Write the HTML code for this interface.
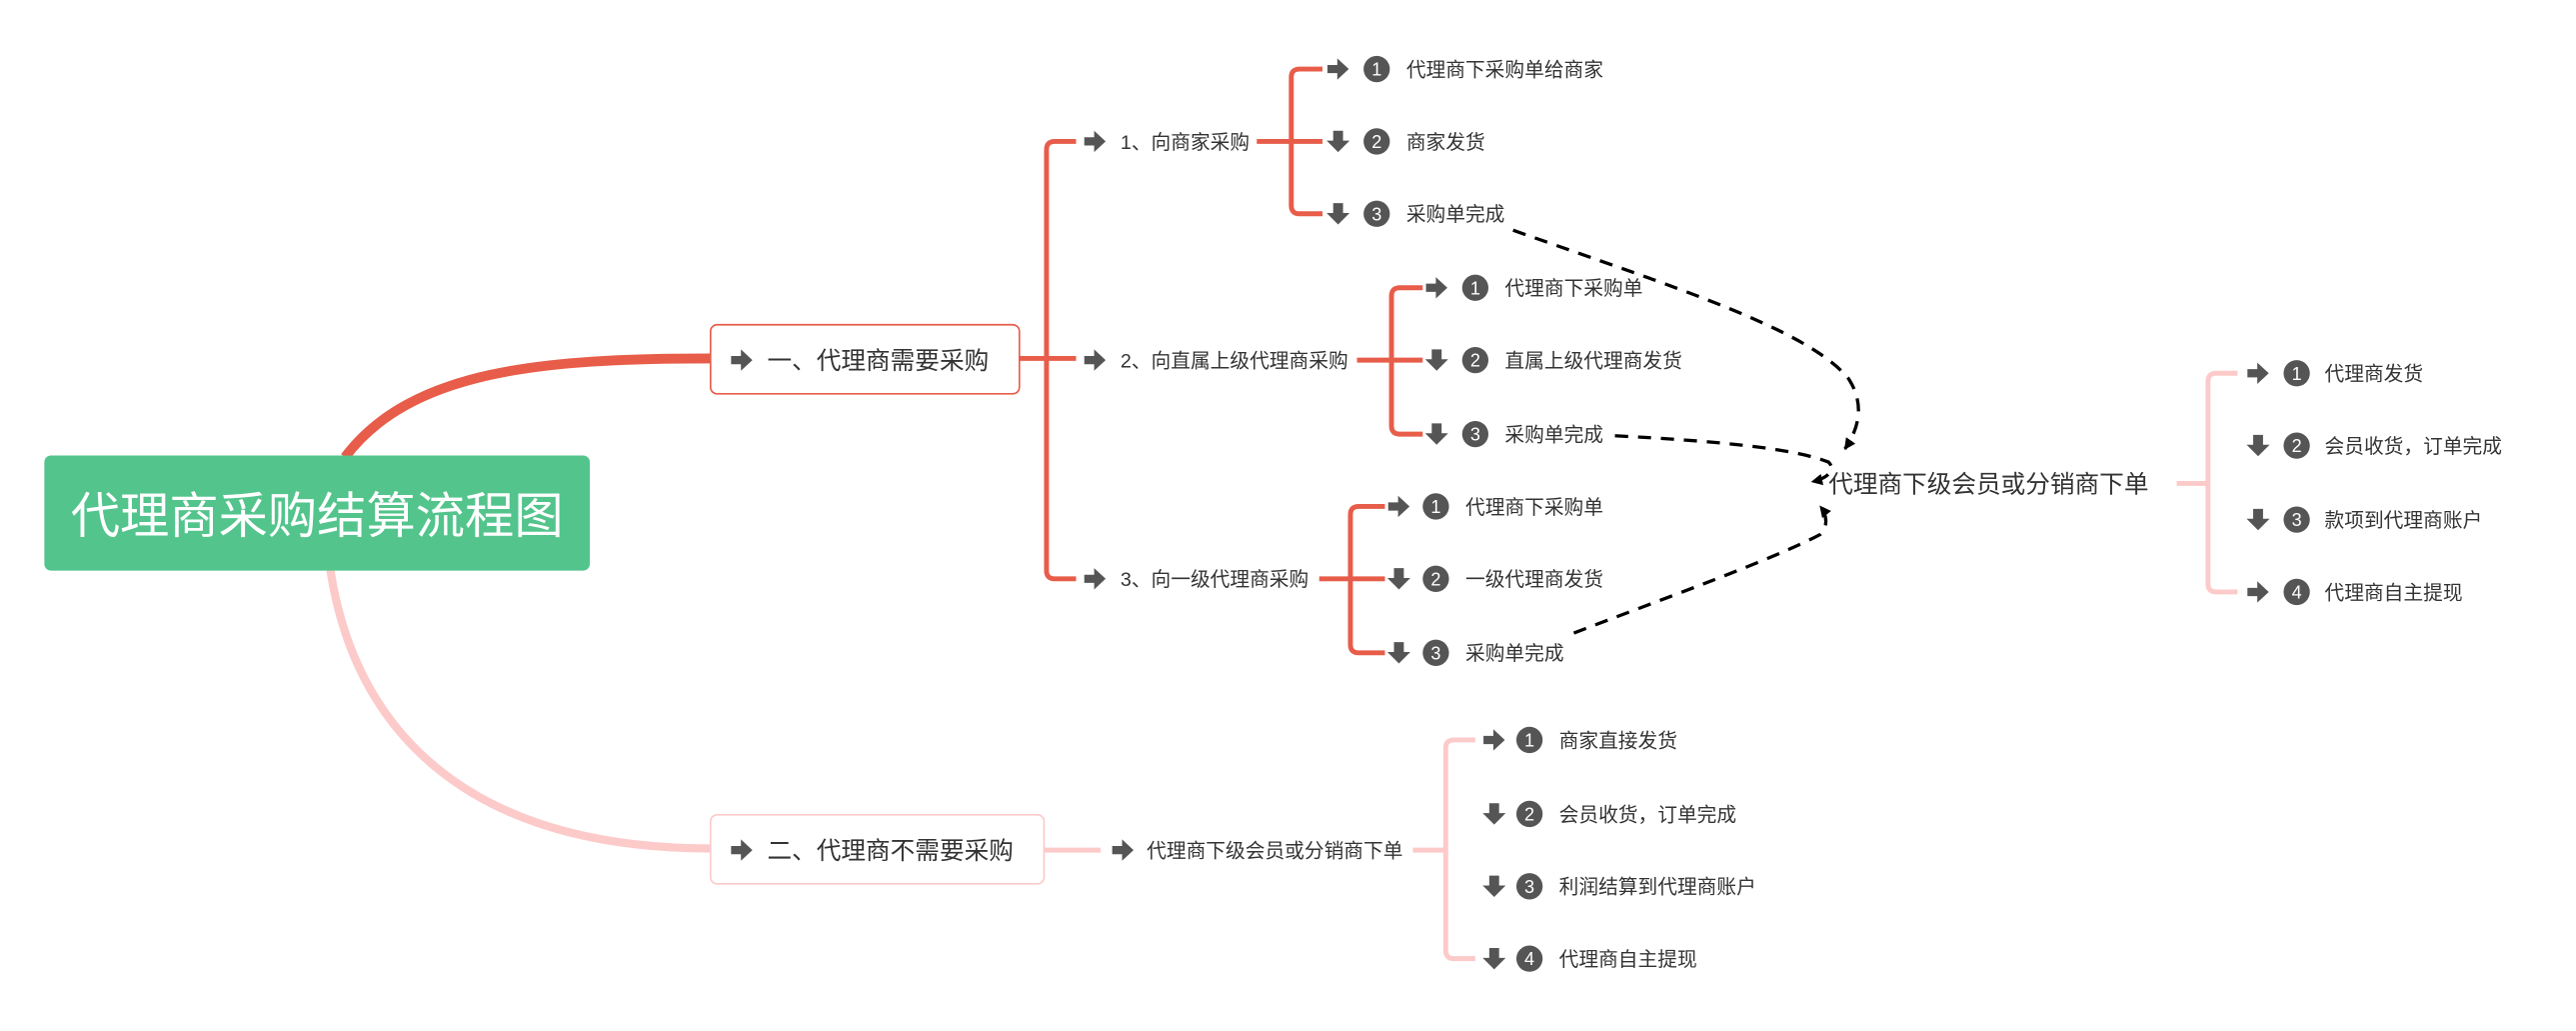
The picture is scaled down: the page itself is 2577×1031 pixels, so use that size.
<!DOCTYPE html>
<html><head><meta charset="utf-8"><style>
html,body{margin:0;padding:0;background:#fff;}
svg{display:block;}
text{font-family:"Liberation Sans","Noto Sans CJK SC",sans-serif;}
</style></head><body>
<svg width="2577" height="1031" viewBox="0 0 1568 627" preserveAspectRatio="none" xmlns="http://www.w3.org/2000/svg">
<defs>
<g id="ra"><path d="M0,-2.5 h6 v-4 l7,6.5 -7,6.5 v-4 h-6 z" fill="#555"/></g>
<g id="da"><path d="M3.5,-6.5 h6 v6 h4 l-7,7 -7,-7 h4 z" fill="#555"/></g>
<marker id="ah" viewBox="0 0 10 10" refX="9" refY="5" markerWidth="7" markerHeight="7" orient="auto" markerUnits="userSpaceOnUse"><path d="M0,0 L10,5 L0,10 z" fill="#000"/></marker>
</defs>

<!-- main curves -->
<path d="M210,278 C250,225 330,218 433,218" fill="none" stroke="#e85c4a" stroke-width="6"/>
<path d="M201,346 C215,440 280,516 433,516" fill="none" stroke="#fdcaca" stroke-width="5"/>

<!-- root -->
<rect x="27" y="277" width="332" height="70" rx="4" fill="#52c48c"/>
<text x="193" y="324" font-size="30" fill="#fff" text-anchor="middle">代理商采购结算流程图</text>

<!-- box1 -->
<rect x="432.5" y="197.5" width="188" height="42" rx="4" fill="#fff" stroke="#e85c4a"/>
<use href="#ra" x="445" y="219"/>
<text x="467" y="224.5" font-size="15" fill="#333">一、代理商需要采购</text>
<!-- box2 -->
<rect x="432.5" y="495.5" width="203" height="42" rx="4" fill="#fff" stroke="#fdcaca"/>
<use href="#ra" x="445" y="517"/>
<text x="467" y="522.5" font-size="15" fill="#333">二、代理商不需要采购</text>

<g fill="none" stroke="#e85c4a" stroke-width="3">
<path d="M620,218 H655 M655,86 H642 Q637,86 637,91 V347 Q637,352 642,352 H655"/>
<path d="M765,86 H805 M805,42 H791 Q786,42 786,47 V125 Q786,130 791,130 H805"/>
<path d="M826,219 H866 M866,175 H852 Q847,175 847,180 V259 Q847,264 852,264 H866"/>
<path d="M803,352 H843 M843,308 H827 Q822,308 822,313 V392 Q822,397 827,397 H843"/>
</g>
<g fill="none" stroke="#fdcaca" stroke-width="3">
<path d="M1325,294 H1344 M1362,227 H1349 Q1344,227 1344,232 V355 Q1344,360 1349,360 H1362"/>
<path d="M635,517 H670"/>
<path d="M860,517 H880 M898,450 H885 Q880,450 880,455 V578 Q880,583 885,583 H898"/>
</g>

<g font-size="12" fill="#333">
<use href="#ra" x="660" y="86"/><text x="682" y="90.5">1、向商家采购</text>
<use href="#ra" x="660" y="219"/><text x="682" y="223.5">2、向直属上级代理商采购</text>
<use href="#ra" x="660" y="352"/><text x="682" y="356.5">3、向一级代理商采购</text>
<use href="#ra" x="677" y="517"/><text x="698" y="521.5">代理商下级会员或分销商下单</text>
</g>
<text x="1113" y="299.5" font-size="15" fill="#333">代理商下级会员或分销商下单</text>

<!-- leaf items -->
<g font-size="12" fill="#333">
<!-- group 1 -->
<use href="#ra" x="808" y="42"/><circle cx="838" cy="42" r="8" fill="#555"/><text x="838" y="46" font-size="11" fill="#fff" text-anchor="middle">1</text><text x="856" y="46.5">代理商下采购单给商家</text>
<use href="#da" x="808" y="86"/><circle cx="838" cy="86" r="8" fill="#555"/><text x="838" y="90" font-size="11" fill="#fff" text-anchor="middle">2</text><text x="856" y="90.5">商家发货</text>
<use href="#da" x="808" y="130"/><circle cx="838" cy="130" r="8" fill="#555"/><text x="838" y="134" font-size="11" fill="#fff" text-anchor="middle">3</text><text x="856" y="134.5">采购单完成</text>
<!-- group 2 -->
<use href="#ra" x="868" y="175"/><circle cx="898" cy="175" r="8" fill="#555"/><text x="898" y="179" font-size="11" fill="#fff" text-anchor="middle">1</text><text x="916" y="179.5">代理商下采购单</text>
<use href="#da" x="868" y="219"/><circle cx="898" cy="219" r="8" fill="#555"/><text x="898" y="223" font-size="11" fill="#fff" text-anchor="middle">2</text><text x="916" y="223.5">直属上级代理商发货</text>
<use href="#da" x="868" y="264"/><circle cx="898" cy="264" r="8" fill="#555"/><text x="898" y="268" font-size="11" fill="#fff" text-anchor="middle">3</text><text x="916" y="268.5">采购单完成</text>
<!-- group 3 -->
<use href="#ra" x="845" y="308"/><circle cx="874" cy="308" r="8" fill="#555"/><text x="874" y="312" font-size="11" fill="#fff" text-anchor="middle">1</text><text x="892" y="312.5">代理商下采购单</text>
<use href="#da" x="845" y="352"/><circle cx="874" cy="352" r="8" fill="#555"/><text x="874" y="356" font-size="11" fill="#fff" text-anchor="middle">2</text><text x="892" y="356.5">一级代理商发货</text>
<use href="#da" x="845" y="397"/><circle cx="874" cy="397" r="8" fill="#555"/><text x="874" y="401" font-size="11" fill="#fff" text-anchor="middle">3</text><text x="892" y="401.5">采购单完成</text>
<!-- right group -->
<use href="#ra" x="1368" y="227"/><circle cx="1398" cy="227" r="8" fill="#555"/><text x="1398" y="231" font-size="11" fill="#fff" text-anchor="middle">1</text><text x="1415" y="231.5">代理商发货</text>
<use href="#da" x="1368" y="271"/><circle cx="1398" cy="271" r="8" fill="#555"/><text x="1398" y="275" font-size="11" fill="#fff" text-anchor="middle">2</text><text x="1415" y="275.5">会员收货，订单完成</text>
<use href="#da" x="1368" y="316"/><circle cx="1398" cy="316" r="8" fill="#555"/><text x="1398" y="320" font-size="11" fill="#fff" text-anchor="middle">3</text><text x="1415" y="320.5">款项到代理商账户</text>
<use href="#ra" x="1368" y="360"/><circle cx="1398" cy="360" r="8" fill="#555"/><text x="1398" y="364" font-size="11" fill="#fff" text-anchor="middle">4</text><text x="1415" y="364.5">代理商自主提现</text>
<!-- bottom group -->
<use href="#ra" x="903" y="450"/><circle cx="931" cy="450" r="8" fill="#555"/><text x="931" y="454" font-size="11" fill="#fff" text-anchor="middle">1</text><text x="949" y="454.5">商家直接发货</text>
<use href="#da" x="903" y="495"/><circle cx="931" cy="495" r="8" fill="#555"/><text x="931" y="499" font-size="11" fill="#fff" text-anchor="middle">2</text><text x="949" y="499.5">会员收货，订单完成</text>
<use href="#da" x="903" y="539"/><circle cx="931" cy="539" r="8" fill="#555"/><text x="931" y="543" font-size="11" fill="#fff" text-anchor="middle">3</text><text x="949" y="543.5">利润结算到代理商账户</text>
<use href="#da" x="903" y="583"/><circle cx="931" cy="583" r="8" fill="#555"/><text x="931" y="587" font-size="11" fill="#fff" text-anchor="middle">4</text><text x="949" y="587.5">代理商自主提现</text>
</g>

<!-- dashed connectors -->
<g fill="none" stroke="#000" stroke-width="2" stroke-dasharray="8,6">
<path d="M921,140 C1020,175 1100,200 1125,230 C1135,245 1132,260 1123,273" marker-end="url(#ah)"/>
<path d="M983,265 C1040,268 1090,272 1113,281 C1118,286 1112,291 1103,293" marker-end="url(#ah)"/>
<path d="M958,385 C1010,365 1080,340 1108,325 C1113,320 1112,313 1108,308" marker-end="url(#ah)"/>
</g>
</svg>
</body></html>
